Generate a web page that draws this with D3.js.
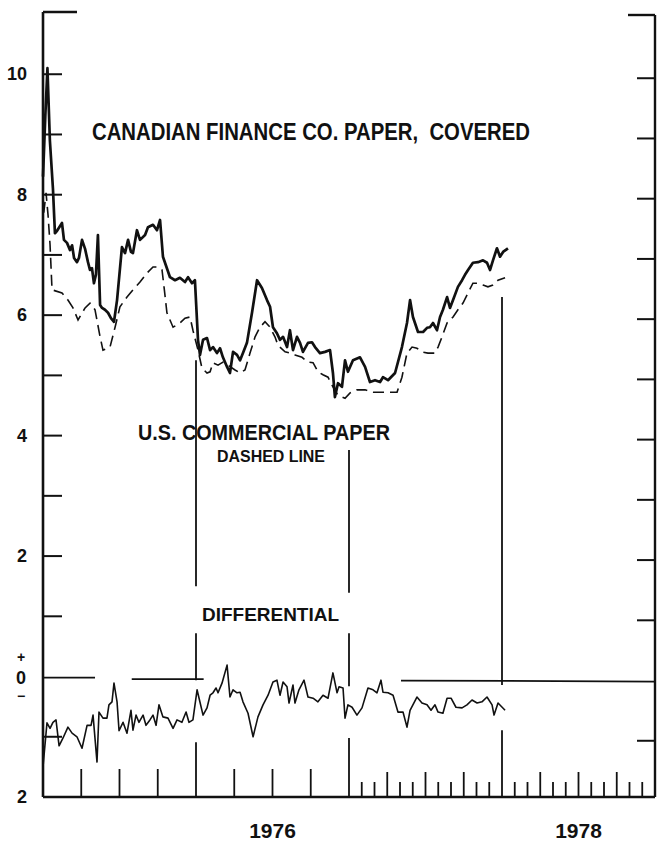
<!DOCTYPE html>
<html lang="en">
<head>
    <meta charset="UTF-8">
    <title>Canadian Finance Co. Paper vs U.S. Commercial Paper</title>
    <script src="https://d3js.org/d3.v7.min.js"></script>
    <style>
        body{ margin:0; background:#fff; }
        .lbl{
            fill:#111;
            font-family:"Liberation Sans", Arial, Helvetica, sans-serif;
            font-weight:bold;
        }
    </style>
</head>
<body>
<svg id="main" width="657" height="841"></svg>
<script>
    // [decimal year, percent]
    let canadianPaper = [
        [1975.000, 8.3], [1975.015, 9.3], [1975.029, 10.1], [1975.045, 8.9], [1975.065, 8.1],
        [1975.078, 7.36], [1975.092, 7.4], [1975.124, 7.53], [1975.137, 7.25], [1975.157, 7.2],
        [1975.176, 7.08], [1975.190, 7.16], [1975.203, 6.95], [1975.222, 6.88], [1975.235, 6.95],
        [1975.255, 7.25], [1975.275, 7.1], [1975.294, 6.88], [1975.307, 6.75], [1975.320, 6.78],
        [1975.333, 6.53], [1975.346, 6.67], [1975.359, 7.33], [1975.373, 6.17], [1975.386, 6.12],
        [1975.405, 6.09], [1975.425, 6.04], [1975.444, 5.95], [1975.464, 5.89], [1975.484, 6.25],
        [1975.516, 7.13], [1975.536, 7.03], [1975.556, 7.25], [1975.575, 7.05], [1975.588, 7.03],
        [1975.614, 7.41], [1975.634, 7.25], [1975.667, 7.33], [1975.686, 7.46], [1975.719, 7.50],
        [1975.745, 7.41], [1975.765, 7.58], [1975.784, 6.97], [1975.830, 6.63], [1975.863, 6.58],
        [1975.895, 6.62], [1975.928, 6.55], [1975.948, 6.63], [1975.974, 6.53], [1975.993, 6.58],
        [1976.013, 5.59], [1976.026, 5.34], [1976.046, 5.59], [1976.072, 5.62], [1976.092, 5.42],
        [1976.111, 5.47], [1976.137, 5.37], [1976.157, 5.45], [1976.176, 5.30], [1976.203, 5.14],
        [1976.222, 5.04], [1976.242, 5.39], [1976.268, 5.34], [1976.288, 5.25], [1976.307, 5.37],
        [1976.333, 5.54], [1976.366, 6.04], [1976.399, 6.58], [1976.431, 6.45], [1976.464, 6.25],
        [1976.484, 6.14], [1976.503, 5.80], [1976.529, 5.70], [1976.549, 5.59], [1976.569, 5.64],
        [1976.595, 5.47], [1976.614, 5.75], [1976.634, 5.42], [1976.660, 5.64], [1976.680, 5.54],
        [1976.699, 5.39], [1976.732, 5.54], [1976.758, 5.55], [1976.778, 5.47], [1976.810, 5.37],
        [1976.843, 5.39], [1976.876, 5.42], [1976.895, 5.04], [1976.908, 4.64], [1976.928, 4.87],
        [1976.954, 4.81], [1976.974, 5.25], [1976.993, 5.06], [1977.026, 5.25], [1977.072, 5.30],
        [1977.105, 5.14], [1977.137, 4.89], [1977.170, 4.92], [1977.203, 4.89], [1977.222, 4.97],
        [1977.255, 4.92], [1977.301, 5.04], [1977.346, 5.47], [1977.379, 5.87], [1977.399, 6.25],
        [1977.418, 5.97], [1977.451, 5.72], [1977.484, 5.72], [1977.510, 5.79], [1977.529, 5.80],
        [1977.549, 5.87], [1977.575, 5.75], [1977.595, 5.97], [1977.614, 6.09], [1977.641, 6.30],
        [1977.660, 6.12], [1977.680, 6.25], [1977.712, 6.47], [1977.739, 6.58], [1977.758, 6.67],
        [1977.778, 6.75], [1977.810, 6.87], [1977.843, 6.88], [1977.876, 6.91], [1977.902, 6.87],
        [1977.922, 6.75], [1977.941, 6.91], [1977.967, 7.11], [1977.987, 6.97], [1978.007, 7.05],
        [1978.039, 7.11]
    ];

    let usPaper = [
        [1975.005, 7.7], [1975.020, 8.03], [1975.033, 7.66], [1975.046, 7.17], [1975.059, 6.42],
        [1975.124, 6.37], [1975.163, 6.25], [1975.196, 6.12], [1975.229, 5.92], [1975.275, 6.12],
        [1975.307, 6.20], [1975.340, 6.09], [1975.373, 5.64], [1975.392, 5.42], [1975.438, 5.47],
        [1975.471, 5.80], [1975.503, 6.14], [1975.549, 6.30], [1975.588, 6.42], [1975.634, 6.55],
        [1975.680, 6.70], [1975.719, 6.80], [1975.752, 6.80], [1975.778, 6.75], [1975.791, 6.47],
        [1975.810, 6.04], [1975.850, 5.80], [1975.895, 5.87], [1975.928, 5.95], [1975.961, 5.97],
        [1975.980, 5.75], [1976.013, 5.42], [1976.039, 5.12], [1976.072, 5.04], [1976.092, 5.06],
        [1976.111, 5.21], [1976.144, 5.17], [1976.176, 5.22], [1976.209, 5.17], [1976.255, 5.09],
        [1976.288, 5.04], [1976.320, 5.09], [1976.353, 5.37], [1976.386, 5.64], [1976.418, 5.80],
        [1976.451, 5.89], [1976.484, 5.80], [1976.516, 5.64], [1976.536, 5.50], [1976.582, 5.39],
        [1976.614, 5.37], [1976.647, 5.34], [1976.693, 5.30], [1976.732, 5.22], [1976.765, 5.21],
        [1976.797, 5.06], [1976.830, 5.01], [1976.863, 4.97], [1976.895, 4.81], [1976.928, 4.67],
        [1976.974, 4.62], [1977.007, 4.71], [1977.052, 4.76], [1977.105, 4.76], [1977.157, 4.72],
        [1977.203, 4.72], [1977.255, 4.72], [1977.314, 4.72], [1977.346, 4.97], [1977.379, 5.37],
        [1977.412, 5.47], [1977.444, 5.45], [1977.477, 5.39], [1977.516, 5.37], [1977.562, 5.37],
        [1977.582, 5.47], [1977.608, 5.64], [1977.641, 5.87], [1977.680, 5.97], [1977.712, 6.09],
        [1977.745, 6.20], [1977.778, 6.37], [1977.810, 6.53], [1977.843, 6.53], [1977.876, 6.50],
        [1977.908, 6.47], [1977.941, 6.50], [1977.974, 6.58], [1978.020, 6.62]
    ];

    let differential = [
        [1975.000, -1.50], [1975.026, -0.77], [1975.046, -0.86], [1975.065, -0.76], [1975.085, -0.72],
        [1975.105, -1.15], [1975.131, -1.02], [1975.163, -0.84], [1975.190, -0.94], [1975.222, -1.00],
        [1975.255, -1.19], [1975.288, -0.81], [1975.314, -0.81], [1975.327, -0.64], [1975.353, -1.42],
        [1975.366, -0.59], [1975.392, -0.69], [1975.418, -0.69], [1975.431, -0.47], [1975.451, -0.42],
        [1975.464, -0.11], [1975.484, -0.42], [1975.497, -0.90], [1975.523, -0.76], [1975.549, -0.94],
        [1975.575, -0.56], [1975.588, -0.89], [1975.608, -0.64], [1975.627, -0.76], [1975.654, -0.64],
        [1975.673, -0.81], [1975.699, -0.72], [1975.719, -0.64], [1975.739, -0.81], [1975.758, -0.47],
        [1975.784, -0.67], [1975.817, -0.69], [1975.850, -0.86], [1975.876, -0.72], [1975.908, -0.76],
        [1975.935, -0.59], [1975.954, -0.76], [1975.980, -0.72], [1976.007, -0.22], [1976.020, -0.36],
        [1976.046, -0.64], [1976.072, -0.52], [1976.092, -0.31], [1976.111, -0.27], [1976.131, -0.19],
        [1976.144, -0.27], [1976.170, -0.11], [1976.203, 0.19], [1976.222, -0.34], [1976.242, -0.22],
        [1976.268, -0.27], [1976.288, -0.26], [1976.307, -0.42], [1976.340, -0.61], [1976.373, -1.00],
        [1976.405, -0.67], [1976.438, -0.47], [1976.471, -0.31], [1976.503, -0.09], [1976.529, -0.06],
        [1976.549, -0.31], [1976.569, -0.09], [1976.595, -0.17], [1976.608, -0.44], [1976.634, -0.14],
        [1976.647, -0.44], [1976.673, -0.22], [1976.706, -0.06], [1976.732, -0.34], [1976.765, -0.36],
        [1976.797, -0.42], [1976.830, -0.31], [1976.863, -0.36], [1976.895, 0.06], [1976.922, -0.27],
        [1976.935, -0.17], [1976.961, -0.19], [1976.974, -0.69], [1976.993, -0.47], [1977.020, -0.51],
        [1977.052, -0.64], [1977.085, -0.52], [1977.124, -0.19], [1977.157, -0.22], [1977.183, -0.27],
        [1977.209, -0.06], [1977.222, -0.26], [1977.255, -0.27], [1977.288, -0.31], [1977.320, -0.59],
        [1977.353, -0.59], [1977.379, -0.84], [1977.399, -0.56], [1977.444, -0.34], [1977.477, -0.44],
        [1977.510, -0.47], [1977.536, -0.56], [1977.562, -0.47], [1977.582, -0.59], [1977.614, -0.61],
        [1977.641, -0.36], [1977.667, -0.36], [1977.699, -0.51], [1977.739, -0.52], [1977.771, -0.47],
        [1977.804, -0.39], [1977.837, -0.44], [1977.869, -0.42], [1977.902, -0.34], [1977.935, -0.47],
        [1977.948, -0.64], [1977.974, -0.44], [1978.020, -0.56]
    ];

    let yTickValues = [10, 9, 8, 7, 6, 5, 4, 3, 2, 1, -1];
    let yTickLabels = [[10, '10'], [8, '8'], [6, '6'], [4, '4'], [2, '2'], [-2, '2']];
    let yearLabels = [[1976.5, '1976'], [1978.5, '1978']];
    let quarterTicks = [1975.25, 1975.5, 1975.75, 1976.25, 1976.5, 1976.75];
    let monthTicks = d3.range(1, 12).map(function(m){ return 1977 + m / 12; })
        .concat(d3.range(1, 12).map(function(m){ return 1978 + m / 12; }));
    // pieces of the zero line and of the year-boundary lines, [from, to]
    let zeroPieces = [[1975.0, 1975.34], [1975.58, 1976.05], [1977.34, 1979.0]];
    let yearLines = [
        {year: 1976, pieces: [[5.25, 1.5], [0.72, -0.06], [-1.09, -2]]},
        {year: 1977, pieces: [[3.76, 1.39], [0.72, -0.16], [-1.02, -2]]},
        {year: 1978, pieces: [[6.30, -0.14], [-0.89, -2]]}
    ];

    let svg = d3.select('svg#main');
    let xScale = d3.scaleLinear().domain([1975, 1979]).range([43, 655]);
    let yScale = d3.scaleLinear().domain([-2, 11]).range([797, 14]);

    let ink = '#111';

    // frame: left and right axes, bottom axis, top caps
    svg.append('line').attr('x1', xScale(1975)).attr('x2', xScale(1975))
        .attr('y1', 12).attr('y2', yScale(-2)).attr('stroke', ink).attr('stroke-width', 2.6);
    svg.append('line').attr('x1', xScale(1975)).attr('x2', 77)
        .attr('y1', 12).attr('y2', 12).attr('stroke', ink).attr('stroke-width', 2.4);
    svg.append('line').attr('x1', xScale(1979)).attr('x2', xScale(1979))
        .attr('y1', 15).attr('y2', yScale(-2)).attr('stroke', ink).attr('stroke-width', 2.4);
    svg.append('line').attr('x1', 628).attr('x2', xScale(1979))
        .attr('y1', 15).attr('y2', 15).attr('stroke', ink).attr('stroke-width', 2.4);
    svg.append('line').attr('x1', xScale(1975)).attr('x2', xScale(1979))
        .attr('y1', yScale(-2)).attr('y2', yScale(-2)).attr('stroke', ink).attr('stroke-width', 2.4);

    // value ticks, both sides
    svg.selectAll('line.ltick').data(yTickValues).enter().append('line')
        .attr('class', 'ltick')
        .attr('x1', xScale(1975)).attr('x2', xScale(1975) + 19)
        .attr('y1', function(d){ return yScale(d); }).attr('y2', function(d){ return yScale(d); })
        .attr('stroke', ink).attr('stroke-width', 2);
    svg.selectAll('line.rtick').data(yTickValues).enter().append('line')
        .attr('class', 'rtick')
        .attr('x1', xScale(1979) - 18).attr('x2', xScale(1979))
        .attr('y1', function(d){ return yScale(d) + 4; }).attr('y2', function(d){ return yScale(d) + 4; })
        .attr('stroke', ink).attr('stroke-width', 2);

    // zero line
    svg.selectAll('line.zero').data(zeroPieces).enter().append('line')
        .attr('class', 'zero')
        .attr('x1', function(d){ return xScale(d[0]); }).attr('x2', function(d){ return xScale(d[1]); })
        .attr('y1', function(d, i){ return yScale(0) + 1 + i * 1.5; })
        .attr('y2', function(d, i){ return yScale(0) + 1 + i * 1.5 + (i == 2 ? 1 : 0); })
        .attr('stroke', ink).attr('stroke-width', 1.8);

    // year boundary lines
    yearLines.forEach(function(yl){
        svg.selectAll(null).data(yl.pieces).enter().append('line')
            .attr('x1', xScale(yl.year)).attr('x2', xScale(yl.year))
            .attr('y1', function(d){ return yScale(d[0]); })
            .attr('y2', function(d){ return yScale(d[1]); })
            .attr('stroke', ink).attr('stroke-width', 1.8);
    });

    // time ticks on the bottom axis
    svg.selectAll('line.qtick').data(quarterTicks).enter().append('line')
        .attr('class', 'qtick')
        .attr('x1', function(d){ return xScale(d); }).attr('x2', function(d){ return xScale(d); })
        .attr('y1', yScale(-2) - 28).attr('y2', yScale(-2))
        .attr('stroke', ink).attr('stroke-width', 1.8);
    svg.selectAll('line.mtick').data(monthTicks).enter().append('line')
        .attr('class', 'mtick')
        .attr('x1', function(d){ return xScale(d); }).attr('x2', function(d){ return xScale(d); })
        .attr('y1', function(d){
            let m = Math.round((d % 1) * 12);
            return yScale(-2) - (m % 3 == 0 ? 25 : 15);
        })
        .attr('y2', yScale(-2))
        .attr('stroke', ink).attr('stroke-width', 1.8);

    // series
    let line = d3.line()
        .x(function(d){ return xScale(d[0]); })
        .y(function(d){ return yScale(d[1]); });

    svg.append('path').datum(usPaper)
        .attr('d', line).attr('fill', 'none').attr('stroke', ink)
        .attr('stroke-width', 1.6).attr('stroke-dasharray', '11,6');
    svg.append('path').datum(canadianPaper)
        .attr('d', line).attr('fill', 'none').attr('stroke', ink)
        .attr('stroke-width', 2.7).attr('stroke-linejoin', 'round');
    svg.append('path').datum(differential)
        .attr('d', line).attr('fill', 'none').attr('stroke', ink)
        .attr('stroke-width', 1.6).attr('stroke-linejoin', 'round');

    // value labels
    svg.selectAll('text.ylab').data(yTickLabels).enter().append('text')
        .attr('class', 'lbl ylab')
        .attr('x', 27).attr('y', function(d){ return yScale(d[0]) + 6; })
        .attr('text-anchor', 'end').style('font-size', '18px')
        .text(function(d){ return d[1]; });

    // "+ 0 -" stacked at the zero line
    let signs = [
        {t: '+', dy: -15, size: 14},
        {t: '0', dy: 7, size: 18},
        {t: '\u2212', dy: 24, size: 14}
    ];
    svg.selectAll('text.sign').data(signs).enter().append('text')
        .attr('class', 'lbl sign')
        .attr('x', 21).attr('y', function(d){ return yScale(0) + d.dy; })
        .attr('text-anchor', 'middle')
        .style('font-size', function(d){ return d.size + 'px'; })
        .text(function(d){ return d.t; });

    svg.selectAll('text.year').data(yearLabels).enter().append('text')
        .attr('class', 'lbl year')
        .attr('x', function(d){ return xScale(d[0]); }).attr('y', 838)
        .attr('text-anchor', 'middle').style('font-size', '21px')
        .text(function(d){ return d[1]; });

    // annotations
    let notes = [
        {t: 'CANADIAN FINANCE CO. PAPER,  COVERED', x: 92, y: 140, size: 23, w: 438},
        {t: 'U.S. COMMERCIAL PAPER', x: 138, y: 440, size: 22, w: 252},
        {t: 'DASHED LINE', x: 217, y: 462, size: 16, w: 108},
        {t: 'DIFFERENTIAL', x: 202, y: 621, size: 19, w: 137}
    ];
    svg.selectAll('text.note').data(notes).enter().append('text')
        .attr('class', 'lbl note')
        .attr('x', function(d){ return d.x; }).attr('y', function(d){ return d.y; })
        .attr('textLength', function(d){ return d.w; })
        .attr('lengthAdjust', 'spacingAndGlyphs')
        .style('font-size', function(d){ return d.size + 'px'; })
        .style('white-space', 'pre')
        .text(function(d){ return d.t; });
</script>
</body>
</html>
